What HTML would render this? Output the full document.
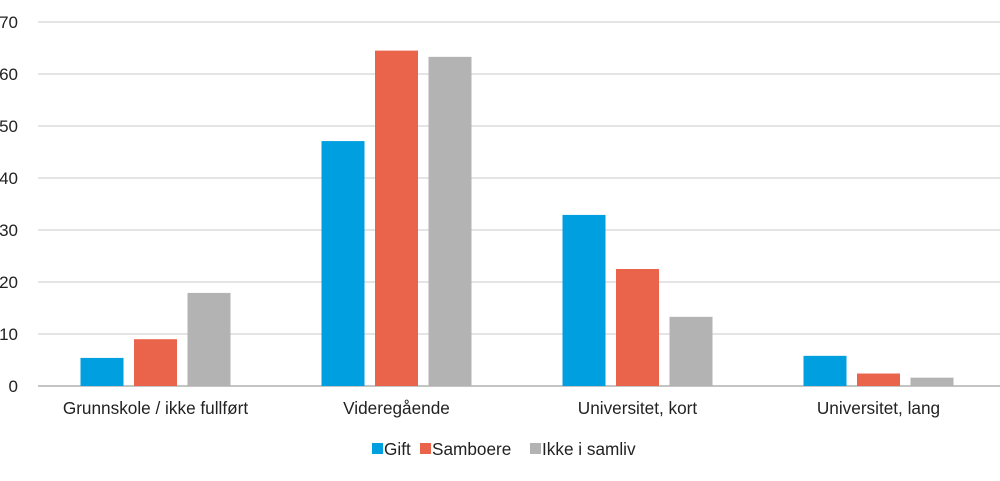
<!DOCTYPE html>
<html><head><meta charset="utf-8"><style>
body{margin:0;background:#fff;font-family:"Liberation Sans",sans-serif;}
svg text{font-family:"Liberation Sans",sans-serif;fill:#222;}
</style></head><body>
<svg id="chart" width="1000" height="476"></svg>
<script>
const categories=["Grunnskole / ikke fullført","Videregående","Universitet, kort","Universitet, lang"];
const seriesNames=["Gift","Samboere","Ikke i samliv"];
const gift=[5.4,47.1,32.9,5.8];
const samboere=[9.0,64.5,22.5,2.4];
const ikke=[17.9,63.3,13.3,1.6];
const yTicks=[0,10,20,30,40,50,60,70];
const colors=["#009fe0","#e9644a","#b3b3b3"];
const series=[gift,samboere,ikke];
const NS="http://www.w3.org/2000/svg";
const svg=document.getElementById('chart');
const left=35,right=999,y0=386,pxPerUnit=5.2;
const yS=v=>y0-v*pxPerUnit;
const groupW=(right-left)/categories.length;
const xC=i=>left+groupW*(i+0.5);
function mk(t,a){const e=document.createElementNS(NS,t);for(const k in a)e.setAttribute(k,a[k]);svg.appendChild(e);return e;}
yTicks.forEach(t=>{
  const l=mk('line',{x1:38,x2:1000,y1:yS(t),y2:yS(t),stroke:t===0?'#888':'#c8c8c8','stroke-width':1});
  
  
  const tx=mk('text',{x:18,y:yS(t)+6,'text-anchor':'end','font-size':17});
  tx.textContent=t;
  
  
});
const bw=43,gap=10.5;
categories.forEach((c,i)=>{
  series.forEach((s,j)=>{
    const x=xC(i)+(j-1)*(bw+gap)-bw/2;
    const r=mk('rect',{x:x,y:yS(s[i]),width:bw,height:s[i]*pxPerUnit,fill:colors[j]});
    
    
  });
  const t=mk('text',{x:xC(i),y:414,'text-anchor':'middle','font-size':17.2});
  t.textContent=c;
  
  
});
const legX=[372,420,530];
seriesNames.forEach((n,j)=>{
  const r=mk('rect',{x:legX[j],y:443,width:11,height:11,fill:colors[j]});
  
  
  const t=mk('text',{x:legX[j]+12,y:455,'font-size':17.2});
  t.textContent=n;
  
  
});
</script>
</body></html>
